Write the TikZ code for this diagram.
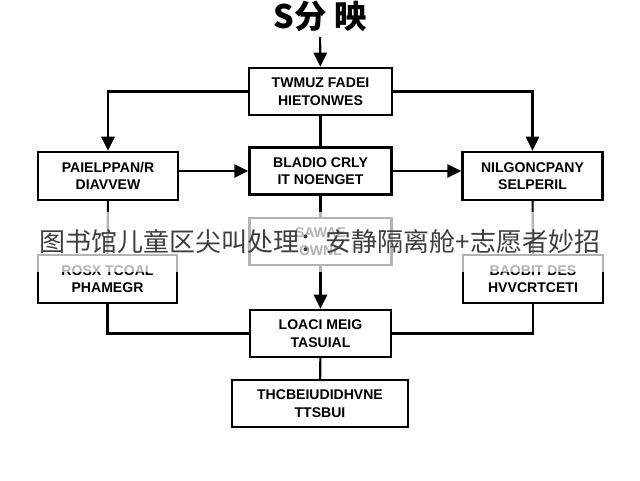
\documentclass[tikz,border=0pt]{standalone}
\usepackage{fontspec}
\setmainfont{Liberation Sans}
\newfontfamily\cjk{Noto Sans CJK SC}
\usepackage{xcolor}
\usepackage{tikz}
\usetikzlibrary{arrows.meta,positioning}
\definecolor{CaptionGray}{RGB}{62,62,62}

\tikzset{
  flowbox/.style={draw=black,line width=1.7pt,fill=white,inner sep=0pt,
    minimum width=3.5cm,minimum height=1.18cm,align=center,
    font=\fontsize{10}{12.5}\selectfont\bfseries},
  link/.style={black,line width=1.5pt},
  arr/.style={link,-{Triangle[length=10pt,width=9.5pt]}}
}

\begin{document}
\begin{tikzpicture}
        \useasboundingbox (0,0) rectangle (16,12);
        \fill[white] (0,0) rectangle (16,12);
        % title and first box
        \node[font=\cjk\bfseries\fontsize{23}{23}\selectfont] (title)
          at (8,11.58) {S分 映};
        \node[flowbox,minimum width=3.575cm] (top) at (8.0125,9.7125)
          {TWMUZ FADEI\\HIETONWES};
        % second row
        \node[flowbox,minimum height=1.2cm] (left2) at (2.7,7.6)
          {PAIELPPAN/R\\DIAVVEW};
        \node[flowbox,minimum width=3.55cm,minimum height=1.175cm] (center2)
          at (8.0125,7.725) {BLADIO CRLY\\IT NOENGET};
        \node[flowbox,minimum height=1.2cm] (right2) at (13.3125,7.6)
          {NILGONCPANY\\SELPERIL};
        % third row
        \node[flowbox,minimum width=3.55cm,minimum height=1.175cm] (center3)
          at (8.0125,5.9625) {SAWAE\\OWNL};
        \node[flowbox,minimum width=3.475cm,minimum height=1.2cm] (left3)
          at (2.6875,5.025) {ROSX TCOAL\\PHAMEGR};
        \node[flowbox,minimum height=1.2cm] (right3) at (13.325,5.025)
          {BAOBIT DES\\HVVCRTCETI};
        % lower boxes
        \node[flowbox,minimum width=3.525cm,minimum height=1.175cm] (center4)
          at (8.0125,3.6625) {LOACI MEIG\\TASUIAL};
        \node[flowbox,minimum width=4.4cm,minimum height=1.175cm] (bottom)
          at (8,1.9125) {THCBEIUDIDHVNE\\TTSBUI};
        % connectors
        \draw[arr] (title) -- (top);
        \draw[arr] (top.west) -| (left2.north);
        \draw[arr] (top.east) -| (right2.north);
        \draw[link] (top) -- (center2);
        \draw[arr] (left2.east |- center2) -- (center2);
        \draw[arr] (center2) -- (right2.west |- center2);
        \draw[link] (left2) -- (left3);
        \draw[link] (right2) -- (right3);
        \draw[link] (center2) -- (center3);
        \draw[arr] (center3) -- (center4);
        \draw[link] (left3.south) |- (center4.west);
        \draw[link] (right3.south) |- (center4.east);
        \draw[link] (center4) -- (bottom);
        % caption band over the middle
        \fill[white,opacity=0.7] (0,5.2) rectangle (16,6.7);
        \node[CaptionGray,font=\cjk\fontsize{18.5}{20}\selectfont] (caption)
          at (8,5.95) {图书馆儿童区尖叫处理：安静隔离舱+志愿者妙招};
\end{tikzpicture}
\end{document}
